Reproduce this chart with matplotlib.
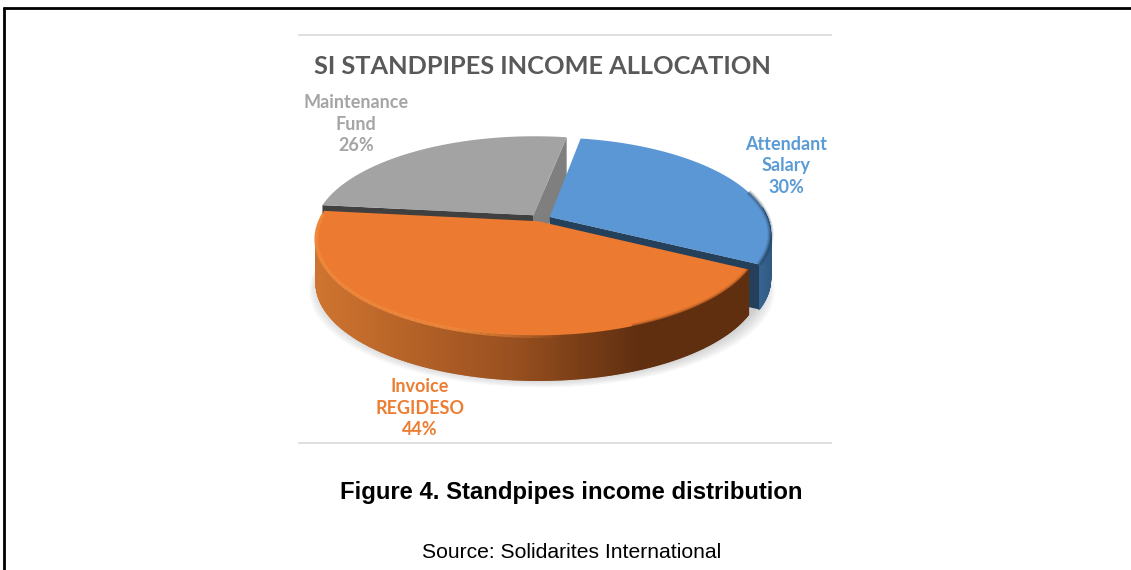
import numpy as np
import matplotlib
matplotlib.use("Agg")
import matplotlib.pyplot as plt
from matplotlib.colors import to_rgb

# 1. Data
labels = ["Attendant\nSalary\n30%", "Invoice\nREGIDESO\n44%", "Maintenance\nFund\n26%"]
shares = [30, 44, 26]
top_colors = ["#5b97d5", "#ec7a30", "#a3a3a3"]
title = "SI STANDPIPES INCOME ALLOCATION"
caption = "Figure 4. Standpipes income distribution"
source = "Source: Solidarites International"

# 2. Pie geometry, in pixels of the picture
CX, CY = 540, 219
RX, RY = 218, 93.7
PERSP = 0.171
DEPTH = 45
EXPLODE = [0.05, 0.025, 0.05]
START = 10


def project(x, y, z=0):
    # disc coordinates -> screen, the far side is squeezed a bit
    d = 1 + PERSP * y
    return CX + RX * x / d, CY - RY * y / d + z


def mix(c1, c2, t):
    return tuple(np.array(to_rgb(c1)) * (1 - t) + np.array(to_rgb(c2)) * t)


def wedge_parts(a0, a1, explode):
    mid = np.radians((a0 + a1) / 2)
    ox, oy = explode * np.sin(mid), explode * np.cos(mid)
    th = np.radians(np.linspace(a0, a1, 400))
    x = np.sin(th) + ox
    y = np.cos(th) + oy
    return ox, oy, x, y


fig = plt.figure(figsize=(11.31, 5.70), dpi=100)
ax = fig.add_axes([0, 0, 1, 1])
ax.set_xlim(0, 1131)
ax.set_ylim(570, 0)
ax.axis("off")

# 3. Frame and chart box lines
ax.plot([4, 4], [7, 570], color="black", lw=2.0, solid_capstyle="butt")
ax.plot([3, 1131], [8, 8], color="black", lw=2.0, solid_capstyle="butt")
ax.plot([299, 831], [35, 35], color="#d9d9d9", lw=1.2)
ax.plot([299, 831], [443, 443], color="#d9d9d9", lw=1.2)

# 4. Soft shadow below the pie
th = np.linspace(0, 2 * np.pi, 200)
for grow in np.linspace(12, 0, 12):
    sx, sy = project(np.sin(th), np.cos(th))
    ax.fill(CX + (sx - CX) * (1 + grow / 230) + 2, sy + DEPTH + 1 + grow * 0.8, color="#808080",
            alpha=0.035, lw=0, zorder=1)

angles = np.concatenate([[0], np.cumsum(shares)]) * 3.6 + START
blue_a, orange_a, gray_a = [(angles[i], angles[i + 1]) for i in range(3)]


def draw_cut(ox, oy, a, color, z):
    # flat cut face going from the apex to the rim
    px, py = project(ox, oy)
    qx, qy = project(np.sin(np.radians(a)) + ox, np.cos(np.radians(a)) + oy)
    ax.fill([px, qx, qx, px], [py, qy, qy + DEPTH, py + DEPTH], color=color, lw=0, zorder=z)


def draw_side(x, y, c_left, c_mid, c_right, z, split=0.45):
    # outer wall as thin quads, shaded from left to right
    sx, sy = project(x, y)
    for i in range(len(sx) - 1):
        if y[i] > 0.12 and y[i + 1] > 0.12:
            continue
        t = (sx[i] - sx.min()) / max(sx.max() - sx.min(), 1)
        c = mix(c_left, c_mid, t / split) if t < split else mix(c_mid, c_right, min((t - split) / 0.3, 1))
        ax.fill([sx[i], sx[i + 1], sx[i + 1], sx[i]],
                [sy[i], sy[i + 1], sy[i + 1] + DEPTH, sy[i] + DEPTH],
                color=c, lw=1.0, ec=c, zorder=z)


def draw_top(ox, oy, x, y, color, z):
    px, py = project(ox, oy)
    sx, sy = project(x, y)
    ax.fill(np.r_[px, sx], np.r_[py, sy], color=color, lw=0, zorder=z)
    return sx, sy


# 5. Gray slice, at the back
ox, oy, x, y = wedge_parts(*gray_a, EXPLODE[2])
draw_cut(ox, oy, gray_a[0], "#404040", 2)
draw_cut(ox, oy, gray_a[1], "#7f7f7f", 3)
draw_top(ox, oy, x, y, top_colors[2], 4)

# 6. Blue slice
ox, oy, x, y = wedge_parts(*blue_a, EXPLODE[0])
draw_side(x, y, "#3f74ab", "#3f74ab", "#23405a", 5, split=0.85)
draw_cut(ox, oy, blue_a[1], "#24405a", 6)
sx, sy = draw_top(ox, oy, x, y, top_colors[0], 7)
for w, a in [(4.5, 0.12), (3, 0.2), (1.5, 0.35)]:
    keep = y < 0.3
    ax.plot(sx[keep], sy[keep], color="#23405a", lw=w, alpha=a, zorder=8, solid_capstyle="butt")

# 7. Orange slice in front
ox, oy, x, y = wedge_parts(*orange_a, EXPLODE[1])
draw_side(x, y, "#cf7430", "#9a501f", "#5f2f10", 9)
sx, sy = draw_top(ox, oy, x, y, top_colors[1], 10)
# light rim on the left that fades out toward the middle
for i in range(0, len(sx) - 4, 4):
    if x[i] < 0.1:
        a = 0.9 * min((0.1 - x[i]) / 0.4, 1)
        ax.plot(sx[i:i + 5], sy[i:i + 5] + 1, color="#f08a3e", lw=2.5, alpha=a, zorder=11,
                solid_capstyle="butt")
keep = x > 0.35
for w, a in [(4, 0.1), (2.5, 0.18), (1.2, 0.3)]:
    ax.plot(sx[keep], sy[keep], color="#5f2f10", lw=w, alpha=a, zorder=11, solid_capstyle="butt")

# 8. Text
ax.text(542, 66.5, title, family="Lato", weight="bold", fontsize=18.3, color="#595959",
        ha="center", va="center", zorder=20)
label_pos = [(786, 166), (420, 408), (356, 124)]
label_colors = ["#5b9bd5", "#ed7d31", "#a5a5a5"]
for txt, (lx, ly), col in zip(labels, label_pos, label_colors):
    ax.text(lx, ly, txt, family="Lato", weight="bold", fontsize=13, color=col,
            ha="center", va="center", linespacing=1.35, zorder=20)
ax.text(571.5, 492.5, caption, family="Liberation Sans", weight="bold", fontsize=17.2, color="black",
        ha="center", va="center")
ax.text(571.5, 552.5, source, family="Liberation Sans", fontsize=15.2, color="black",
        ha="center", va="center")

fig.savefig("out.png", dpi=100)
